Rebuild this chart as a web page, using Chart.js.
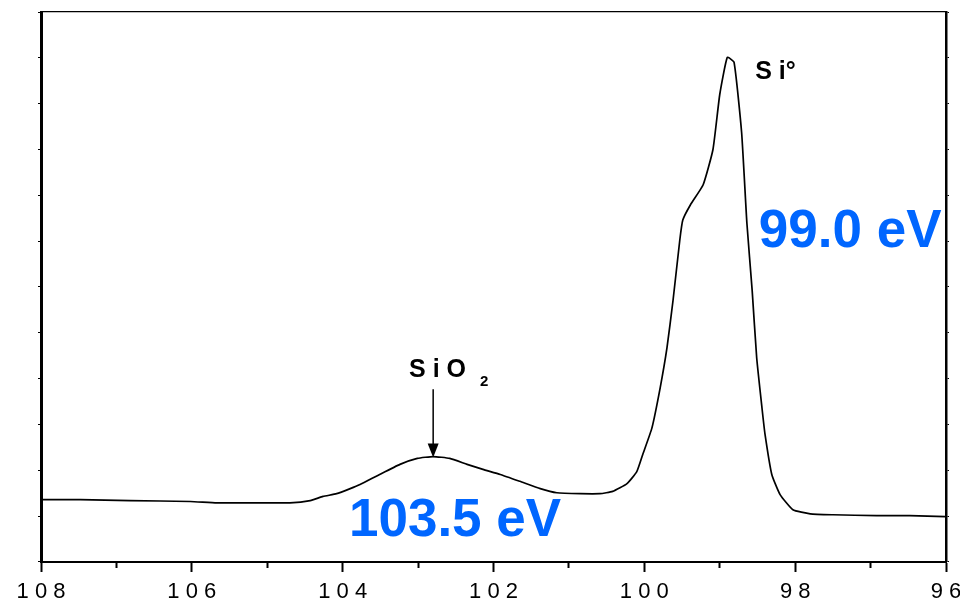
<!DOCTYPE html>
<html>
<head>
<meta charset="utf-8">
<script src="https://cdn.jsdelivr.net/npm/chart.js@4.4.1/dist/chart.umd.min.js"></script>
<style>
  html, body { margin: 0; padding: 0; background: #fff; overflow: hidden; }
  /* slightly larger than the window so the edge labels may run off like the original */
  #wrap { width: 970px; height: 611px; position: relative; }
</style>
</head>
<body>
<div id="wrap"><canvas id="xps"></canvas></div>
<script>
Chart.defaults.font.family = "'Liberation Sans', Arial, sans-serif";
Chart.defaults.color = '#000';

// binding energy (eV)
const energia = [108.00, 107.48, 106.82, 106.02, 105.67, 105.06, 104.70, 104.43, 104.26, 104.08,
  103.90, 103.77, 103.51, 103.24, 103.01, 102.80, 102.58, 102.35, 102.14, 101.91,
  101.65, 101.38, 101.16, 100.85, 100.59, 100.42, 100.23, 100.10, 100.02, 99.90,
  99.79, 99.70, 99.62, 99.53, 99.49, 99.39, 99.22, 99.09, 99.00, 98.90,
  98.81, 98.71, 98.64, 98.57, 98.51, 98.44, 98.40, 98.31, 98.20, 98.03,
  97.80, 97.50, 96.92, 96.48, 96.01];
// intensity (arbitrary units)
const intensidad = [1.36, 1.36, 1.34, 1.32, 1.29, 1.29, 1.29, 1.34, 1.43, 1.49,
  1.60, 1.69, 1.91, 2.13, 2.26, 2.30, 2.26, 2.13, 2.02, 1.91,
  1.76, 1.60, 1.51, 1.49, 1.49, 1.54, 1.71, 1.97, 2.35, 2.92,
  3.80, 4.67, 5.70, 7.02, 7.46, 7.79, 8.23, 9.00, 10.20, 11.01,
  10.90, 9.37, 7.39, 5.92, 4.45, 3.36, 2.79, 1.91, 1.47, 1.14,
  1.05, 1.03, 1.01, 1.01, 0.99];

const X_MIN = 96, X_MAX = 108;
const Y_MIN = 0, Y_MAX = 12;

// etiquetas de los picos
const picos = [
  { texto: 'S i O', sub: '2', x: 103.12, y: 4.04, flecha: [102.80, 3.77, 2.28] },
  { texto: 'S i°', x: 98.53, y: 10.53 }
];
const energiasPico = [
  { texto: '103.5 eV', x: 102.51, y: 0.57 },
  { texto: '99.0 eV', x: 97.27, y: 6.87 }
];

const anotaciones = {
  id: 'anotaciones',
  afterDatasetsDraw(chart) {
    const { ctx, scales: { x, y } } = chart;
    ctx.save();
    ctx.fillStyle = '#000';
    ctx.strokeStyle = '#000';
    ctx.textBaseline = 'alphabetic';
    ctx.textAlign = 'left';
    picos.forEach(p => {
      ctx.font = "bold 25px 'Liberation Sans', Arial, sans-serif";
      const px = x.getPixelForValue(p.x), py = y.getPixelForValue(p.y);
      ctx.fillText(p.texto, px, py);
      if (p.sub) {
        const w = ctx.measureText(p.texto).width;
        ctx.font = "bold 15px 'Liberation Sans', Arial, sans-serif";
        ctx.fillText(p.sub, px + w + 14, py + 9);
      }
      if (p.flecha) {
        const ax = x.getPixelForValue(p.flecha[0]);
        const ay1 = y.getPixelForValue(p.flecha[1]);
        const ay2 = y.getPixelForValue(p.flecha[2]);
        ctx.lineWidth = 1.5;
        ctx.beginPath();
        ctx.moveTo(ax, ay1);
        ctx.lineTo(ax, ay2 - 12);
        ctx.stroke();
        ctx.beginPath();
        ctx.moveTo(ax - 5.5, ay2 - 14);
        ctx.lineTo(ax + 5.5, ay2 - 14);
        ctx.lineTo(ax, ay2);
        ctx.closePath();
        ctx.fill();
      }
    });
    ctx.fillStyle = '#0066ff';
    ctx.textAlign = 'center';
    ctx.font = "bold 53px 'Liberation Sans', Arial, sans-serif";
    energiasPico.forEach(e => {
      ctx.fillText(e.texto, x.getPixelForValue(e.x), y.getPixelForValue(e.y));
    });
    ctx.restore();
  }
};

new Chart(document.getElementById('xps'), {
  type: 'line',
  data: {
    labels: energia,
    datasets: [{
      data: energia.map((e, i) => ({ x: e, y: intensidad[i] })),
      borderColor: '#000',
      borderWidth: 1.7,
      pointRadius: 0,
      fill: false,
      tension: 0.15
    }]
  },
  options: {
    responsive: true, maintainAspectRatio: false, animation: false,
    layout: { padding: { left: 38, right: 21, top: 12, bottom: 0 } },
    plugins: { legend: { display: false }, tooltip: { enabled: false } },
    scales: {
      x: {
        type: 'linear', reverse: true, min: X_MIN, max: X_MAX, position: 'bottom',
        border: { display: true, color: '#000', width: 2 },
        grid: {
          drawOnChartArea: false, drawTicks: true, tickLength: 10, tickColor: '#000', tickWidth: 2,
          tickBorderDash: (c) => (c.tick && c.tick.value % 2 !== 0) ? [5, 40] : []
        },
        ticks: {
          stepSize: 1, autoSkip: false, maxRotation: 0, padding: 4,
          font: { size: 22, lineHeight: 1.41 }, color: '#000',
          callback: (v) => v % 2 === 0 ? String(v).split('').join(' ') : ''
        }
      },
      xTop: {
        type: 'linear', reverse: true, min: X_MIN, max: X_MAX, position: 'top',
        border: { display: true, color: '#000', width: 1.2 },
        grid: { display: false, drawTicks: false },
        ticks: { display: false }
      },
      y: {
        type: 'linear', min: Y_MIN, max: Y_MAX, position: 'left',
        border: { display: true, color: '#000', width: 3 },
        grid: { drawOnChartArea: false, drawTicks: true, tickLength: 3, tickColor: '#000', tickWidth: 1 },
        ticks: { stepSize: 1, display: false }
      },
      yRight: {
        type: 'linear', min: Y_MIN, max: Y_MAX, position: 'right',
        border: { display: true, color: '#000', width: 2.5 },
        grid: { drawOnChartArea: false, drawTicks: true, tickLength: 3, tickColor: '#000', tickWidth: 1 },
        ticks: { stepSize: 1, display: false }
      }
    }
  },
  plugins: [anotaciones]
});
</script>
</body>
</html>
